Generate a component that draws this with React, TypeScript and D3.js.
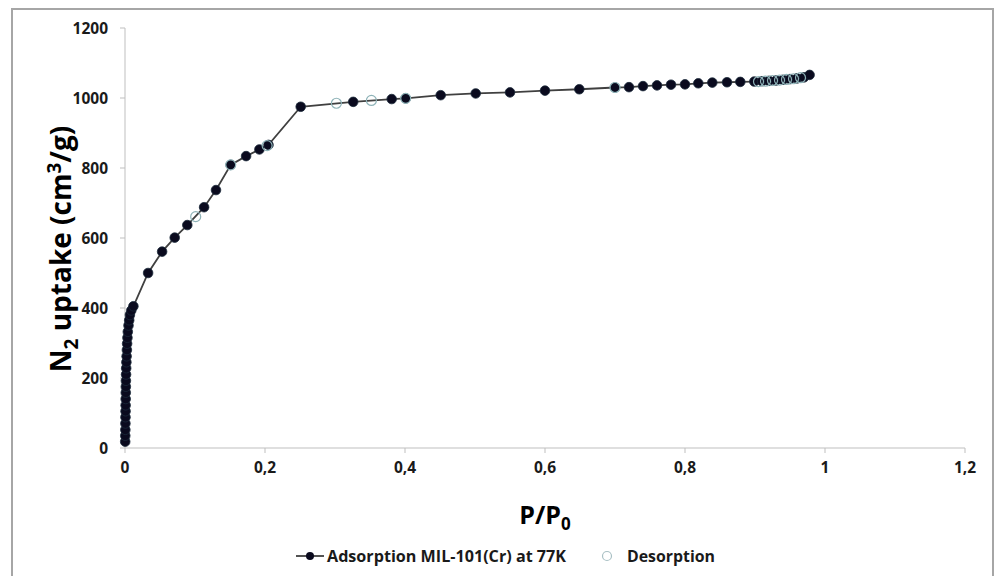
import React from "react";
import * as d3 from "d3";

const adsorptionX = [0.0003, 0.0004, 0.0005, 0.0006, 0.0007, 0.0008, 0.0009, 0.001, 0.0011, 0.0012, 0.0013, 0.0015, 0.0017, 0.002, 0.0023, 0.0027, 0.003, 0.0035, 0.004, 0.005, 0.006, 0.007, 0.009, 0.012,
  0.033, 0.053, 0.071, 0.089, 0.113, 0.13, 0.151, 0.173, 0.192, 0.205, 0.251, 0.326, 0.381, 0.401, 0.451, 0.501, 0.55, 0.6, 0.649, 0.7, 0.72, 0.74, 0.76, 0.78, 0.8, 0.819, 0.839, 0.86, 0.879, 0.899, 0.91, 0.92, 0.93, 0.94, 0.95, 0.96, 0.97, 0.978];
const adsorptionY = [18, 35, 52, 70, 88, 105, 122, 140, 158, 175, 192, 210, 228, 245, 262, 280, 298, 315, 332, 350, 365, 380, 393, 405,
  500, 561, 601, 637, 688, 737, 809, 834, 853, 866, 975, 989, 997, 999, 1008, 1013, 1016, 1021, 1025, 1030, 1031, 1034, 1036, 1038, 1039, 1042, 1044, 1045, 1046, 1047, 1048, 1049, 1050, 1052, 1054, 1056, 1059, 1066];

const desorptionX = [0.101, 0.151, 0.203, 0.302, 0.352, 0.401, 0.7, 0.905, 0.915, 0.925, 0.935, 0.945, 0.955, 0.965];
const desorptionY = [661, 809, 864, 985, 993, 999, 1030, 1047, 1048, 1050, 1051, 1053, 1055, 1058];

const xTicks = [0, 0.2, 0.4, 0.6, 0.8, 1, 1.2];
const yTicks = [0, 200, 400, 600, 800, 1000, 1200];

const seriesNames = ["Adsorption MIL-101(Cr) at 77K", "Desorption"];

const W = 1003;
const H = 576;
const margin = { left: 125, right: 38, top: 28, bottom: 128 };
const FONT = "'Open Sans', 'DejaVu Sans', sans-serif";

export default function App() {
  const x = d3.scaleLinear().domain([0, 1.2]).range([margin.left, W - margin.right]);
  const y = d3.scaleLinear().domain([0, 1200]).range([H - margin.bottom, margin.top]);

  const ads = adsorptionX.map((v, i) => [v, adsorptionY[i]] as [number, number]);
  const des = desorptionX.map((v, i) => [v, desorptionY[i]] as [number, number]);
  const line = d3.line<[number, number]>().x((d) => x(d[0])).y((d) => y(d[1]));

  const fmt = (v: number) => String(v).replace(".", ",");
  const axisColor = "#bfbfbf";

  return (
    <svg width={W} height={H} style={{ position: "fixed", left: 0, top: 0, background: "#fff" }}>
      <rect x={0} y={0} width={W} height={H} fill="#fff" />
      <rect x={12} y={9} width={981} height={H + 20} fill="none" stroke="#a6a6a6" strokeWidth={2} />

      {/* axes */}
      <line x1={x(0)} x2={x(0)} y1={y(0)} y2={y(1200)} stroke={axisColor} strokeWidth={1} />
      <line x1={x(0)} x2={x(1.2)} y1={y(0)} y2={y(0)} stroke={axisColor} strokeWidth={1} />
      {yTicks.map((t) => (
        <g key={"y" + t}>
          <line x1={x(0) - 5} x2={x(0)} y1={y(t)} y2={y(t)} stroke={axisColor} />
          <text x={108} y={y(t)} dy="0.36em" textAnchor="end" fontFamily={FONT} fontWeight={700} fontSize={15.5} fill="#1a1a1a">
            {t}
          </text>
        </g>
      ))}
      {xTicks.map((t) => (
        <g key={"x" + t}>
          <line x1={x(t)} x2={x(t)} y1={y(0)} y2={y(0) + 5} stroke={axisColor} />
          <text x={x(t)} y={473} textAnchor="middle" fontFamily={FONT} fontWeight={700} fontSize={15.5} fill="#1a1a1a">
            {fmt(t)}
          </text>
        </g>
      ))}

      {/* axis titles */}
      <text x={545} y={524} textAnchor="middle" fontFamily={FONT} fontWeight={700} fontSize={25} fill="#000">
        P/P<tspan fontSize={17} dy={6}>0</tspan>
      </text>
      <text transform={`translate(71,249) rotate(-90)`} textAnchor="middle" fontFamily={FONT} fontWeight={700} fontSize={28} fill="#000">
        N<tspan fontSize={19} dy={7}>2</tspan>
        <tspan dy={-7}> uptake (cm</tspan>
        <tspan fontSize={19} dy={-10}>3</tspan>
        <tspan dy={10}>/g)</tspan>
      </text>

      {/* series */}
      <path d={line(ads) || ""} fill="none" stroke="#404040" strokeWidth={1.8} />
      {ads.map((d, i) => (
        <circle key={"a" + i} cx={x(d[0])} cy={y(d[1])} r={4.8} fill="#0a0a1e" stroke="#1b2a3a" strokeWidth={0.8} />
      ))}
      {des.map((d, i) => (
        <circle key={"d" + i} cx={x(d[0])} cy={y(d[1])} r={5} fill="none" stroke="#8fb3b8" strokeWidth={1.2} />
      ))}

      {/* legend */}
      <line x1={296} x2={324} y1={556} y2={556} stroke="#404040" strokeWidth={1.8} />
      <circle cx={310} cy={556} r={4} fill="#0a0a1e" />
      <text x={327} y={562} fontFamily={FONT} fontWeight={700} fontSize={16} textLength={239} lengthAdjust="spacingAndGlyphs" fill="#1a1a1a">
        {seriesNames[0]}
      </text>
      <circle cx={607} cy={556} r={4.5} fill="none" stroke="#a9c0c4" strokeWidth={1.2} />
      <text x={627} y={562} fontFamily={FONT} fontWeight={700} fontSize={16} textLength={88} lengthAdjust="spacingAndGlyphs" fill="#1a1a1a">
        {seriesNames[1]}
      </text>
    </svg>
  );
}
